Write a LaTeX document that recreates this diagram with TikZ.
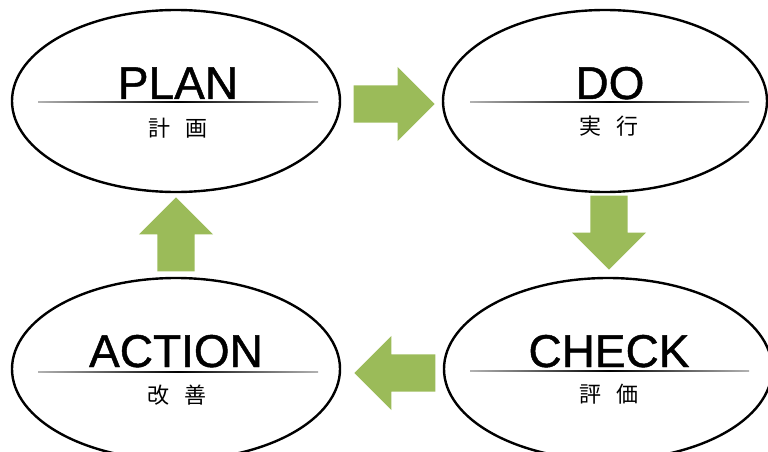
\documentclass[tikz,border=0pt]{standalone}
\usepackage{fontspec}
\setmainfont{Liberation Sans}
\newfontfamily\titlefont[FakeBold=1]{Liberation Sans}
\newfontfamily\jpfont{Noto Sans CJK JP}
\usetikzlibrary{shapes.geometric,shapes.arrows}
\definecolor{pdcagreen}{HTML}{9BBB59}

\begin{document}
\begin{tikzpicture}[
    x=1pt, y=-1pt,
    phase/.style={draw, ellipse, line width=2.4pt, inner sep=0pt,
        minimum width=328pt, minimum height=182pt},
    title/.style={anchor=base, inner sep=0pt, font=\titlefont\fontsize{46}{46}\selectfont},
    subtitle/.style={inner sep=0pt, font=\jpfont\fontsize{22}{22}\selectfont},
    flow/.style={single arrow, fill=pdcagreen, draw=none, inner xsep=0pt,
        inner ysep=18.5pt, minimum width=74pt, minimum height=81pt,
        single arrow head extend=18.5pt, single arrow tip angle=90,
        single arrow head indent=0pt, anchor=tip}
]
\useasboundingbox (0,0) rectangle (768,452);
\clip (0,0) rectangle (768,452);

% phases
\node[phase] (plan)   at (176,101) {};
\node[phase, minimum width=324pt] (do) at (605,101) {};
\node[phase] (check)  at (608,369) {};
\node[phase] (action) at (176,369) {};

% titles
\node[title] (planT)   at (178,99)  {PLAN};
\node[title] (doT)     at (610,99)  {DO};
\node[title] (checkT)  at (609,367) {CHECK};
\node[title] (actionT) at (176,367) {ACTION};

% rules under titles
\foreach \xa/\xb/\yy in {38/318/102, 470/749/102, 470/749/371, 38/318/372}
  \shade[left color=gray!60, right color=gray!60, middle color=black]
    (\xa,\yy-0.6) rectangle (\xb,\yy+0.6);

% japanese labels
\node[subtitle] (planJ)   at (178,128) {計\hspace{15pt}画};
\node[subtitle] (doJ)     at (609,126) {実\hspace{15pt}行};
\node[subtitle] (checkJ)  at (609,394) {評\hspace{15pt}価};
\node[subtitle] (actionJ) at (177,395) {改\hspace{15pt}善};

% cycle arrows
\node[flow] (toDo)     at (435,104) {};
\node[flow, rotate=-90, minimum height=74pt] (toCheck) at (609,270) {};
\node[flow, rotate=180] (toAction) at (354,373) {};
\node[flow, rotate=90, minimum height=74pt]  (toPlan)  at (176,197) {};
\end{tikzpicture}
\end{document}
